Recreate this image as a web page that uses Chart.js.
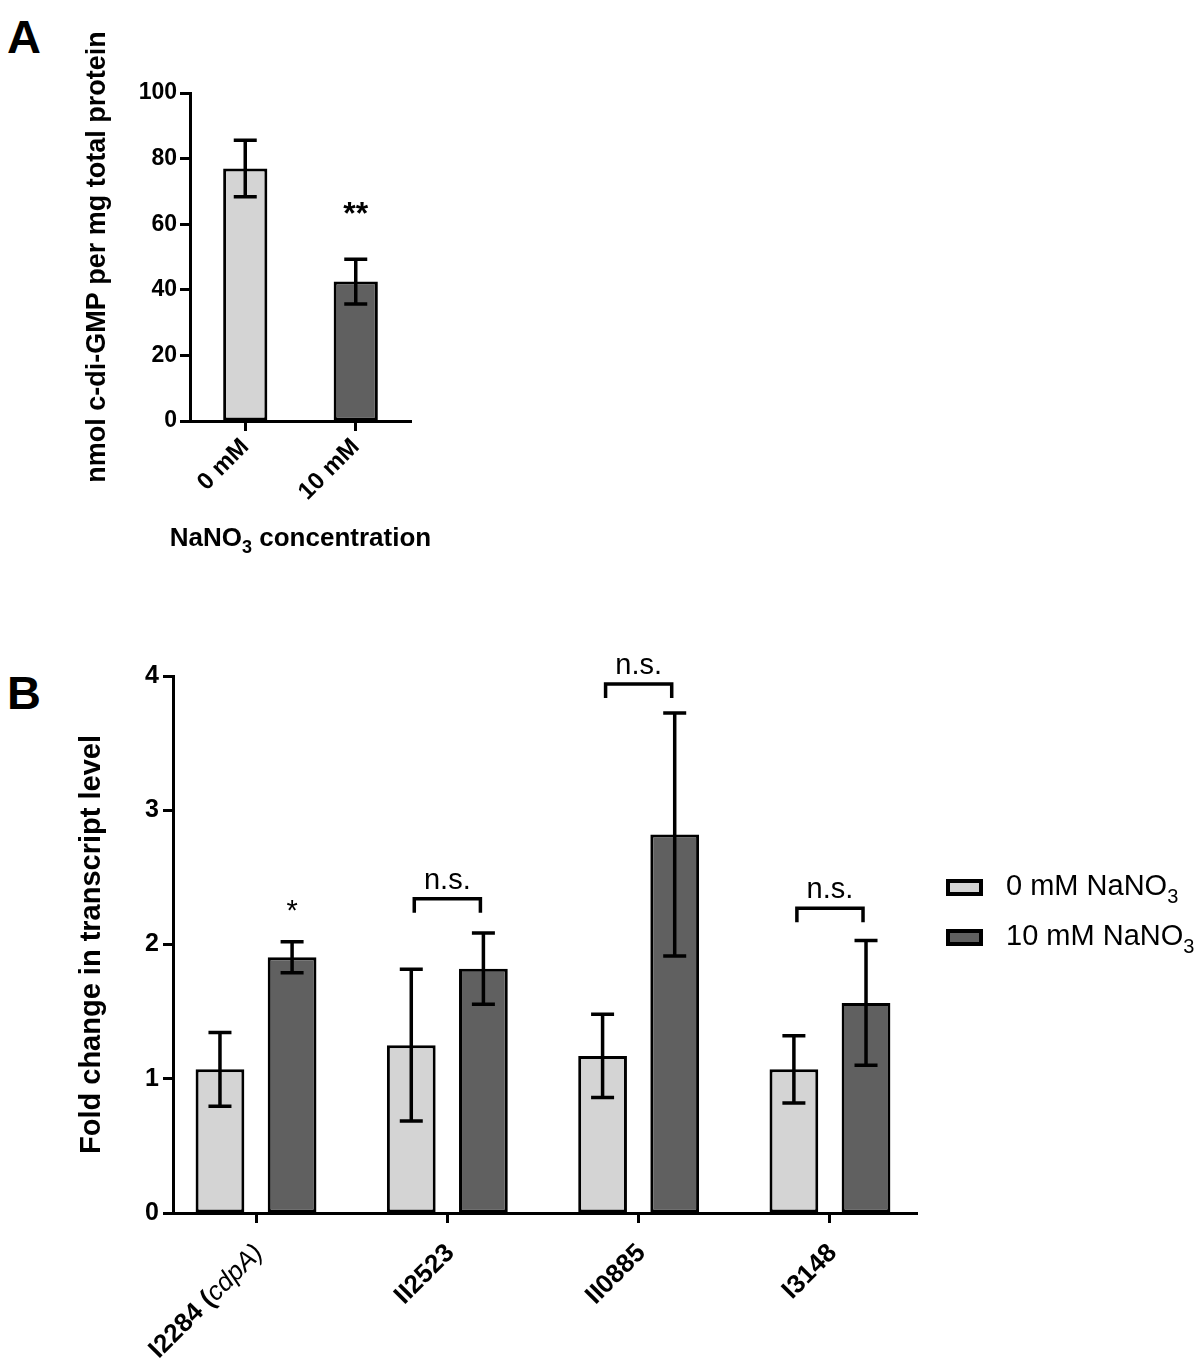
<!DOCTYPE html>
<html>
<head>
<meta charset="utf-8">
<title>c-di-GMP and transcript levels</title>
<script src="https://cdn.jsdelivr.net/npm/chart.js@4.4.1/dist/chart.umd.min.js"></script>
<style>
  body { margin: 0; background: #fff; }
  #page { position: relative; width: 1201px; height: 1358px; overflow: hidden; background: #fff; }
  canvas { position: absolute; left: 0; }
  #chartA { top: 0; }
  #chartB { top: 600px; }
  .panel { position: absolute; left: 7px; font: bold 47px "Liberation Sans", Arial, sans-serif; line-height: 1; color: #000; }
</style>
</head>
<body>
<div id="page">
  <div class="panel" style="top:13px">A</div>
  <div class="panel" style="top:669px">B</div>
  <canvas id="chartA" width="460" height="570"></canvas>
  <canvas id="chartB" width="1201" height="758"></canvas>
</div>
<script>
// panel A: c-di-GMP content
const concLabels = ['0 mM', '10 mM'];
const cdgValues = [77, 42.5];
const cdgErrors = [8.6, 6.8];
const cdgTicks = [0, 20, 40, 60, 80, 100];
const cdgSig = ['', '**'];
const cdgSigY = [0, 60];

// panel B: qRT-PCR fold change
const genes = ['I2284 (cdpA)', 'II2523', 'II0885', 'I3148'];
const seriesNames = ['0 mM NaNO₃', '10 mM NaNO₃'];
const fold0 = [1.07, 1.25, 1.17, 1.07];
const fold0Err = [0.275, 0.565, 0.31, 0.25];
const fold10 = [1.905, 1.82, 2.82, 1.565];
const fold10Err = [0.115, 0.265, 0.905, 0.465];
const foldTicks = [0, 1, 2, 3, 4];
const sigText = ['*', 'n.s.', 'n.s.', 'n.s.'];
const sigLevel = [2.11, 2.34, 3.94, 2.27];
const sigBracket = [false, true, true, true];

const FONT = '"Liberation Sans", Arial, sans-serif';
const black = '#000';
const lightFill = '#d4d4d4';
const darkFill = '#606060';

Chart.defaults.font.family = FONT;
Chart.defaults.color = black;

// text with unicode subscript digits drawn as real subscripts
function richParts(text) {
    return text.split(/([\u2080-\u2089]+)/).filter(s => s).map(s => {
        if (/[\u2080-\u2089]/.test(s)) {
            return {t: [...s].map(c => String.fromCharCode(c.charCodeAt(0) - 0x2080 + 48)).join(''), sub: true};
        }
        return {t: s, sub: false};
    });
}

function drawRich(ctx, text, x, y, size, weight, align) {
    const parts = richParts(text);
    const fonts = parts.map(p => `${weight} ${p.sub ? Math.round(size * 0.7) : size}px ${FONT}`);
    let total = 0;
    const widths = parts.map((p, i) => {
        ctx.font = fonts[i];
        const w = ctx.measureText(p.t).width;
        total += w;
        return w;
    });
    let cx = align === 'center' ? x - total / 2 : x;
    ctx.textAlign = 'left';
    ctx.textBaseline = 'alphabetic';
    parts.forEach((p, i) => {
        ctx.font = fonts[i];
        ctx.fillText(p.t, cx, y + (p.sub ? size * 0.27 : 0));
        cx += widths[i];
    });
}

const errorBars = {
    id: 'errorBars',
    afterDatasetsDraw(chart) {
        const {ctx} = chart;
        const yScale = chart.scales.y;
        ctx.save();
        ctx.strokeStyle = black;
        ctx.lineWidth = 3.5;
        chart.data.datasets.forEach((ds, di) => {
            chart.getDatasetMeta(di).data.forEach((bar, i) => {
                const raw = ds.data[i];
                const v = typeof raw === 'object' ? raw.y : raw;
                const e = ds.errors[i];
                const top = yScale.getPixelForValue(v + e);
                const bot = yScale.getPixelForValue(v - e);
                ctx.beginPath();
                ctx.moveTo(bar.x, top);
                ctx.lineTo(bar.x, bot);
                ctx.moveTo(bar.x - 11.5, top);
                ctx.lineTo(bar.x + 11.5, top);
                ctx.moveTo(bar.x - 11.5, bot);
                ctx.lineTo(bar.x + 11.5, bot);
                ctx.stroke();
            });
        });
        ctx.restore();
    }
};

const axisGrid = {drawOnChartArea: false, offset: false, tickLength: 10, tickWidth: 3, tickColor: black};
const axisBorder = {display: true, color: black, width: 3};

// ---------- panel A ----------
const extrasA = {
    id: 'extrasA',
    afterDraw(chart) {
        const {ctx, chartArea} = chart;
        const yScale = chart.scales.y;
        const meta = chart.getDatasetMeta(0);
        ctx.save();
        ctx.fillStyle = black;
        cdgSig.forEach((s, i) => {
            if (!s) return;
            ctx.font = `bold 32px ${FONT}`;
            ctx.textAlign = 'center';
            ctx.textBaseline = 'alphabetic';
            ctx.fillText(s, meta.data[i].x, yScale.getPixelForValue(cdgSigY[i]));
        });
        drawRich(ctx, 'NaNO₃ concentration', (chartArea.left + chartArea.right) / 2, 546, 26, 'bold', 'center');
        ctx.restore();
    }
};

new Chart(document.getElementById('chartA'), {
    type: 'bar',
    data: {
        labels: concLabels,
        datasets: [{
            data: cdgValues,
            errors: cdgErrors,
            backgroundColor: [lightFill, darkFill],
            borderColor: black,
            borderWidth: 3,
            borderSkipped: false,
            barPercentage: 0.5,
            categoryPercentage: 0.8
        }]
    },
    options: {
        responsive: false,
        animation: false,
        layout: {padding: {top: 93, right: 49, left: 0, bottom: 0}},
        plugins: {legend: {display: false}, tooltip: {enabled: false}},
        scales: {
            x: {
                offset: true,
                grid: axisGrid,
                border: axisBorder,
                ticks: {color: black, font: {size: 24, weight: 'bold'}, minRotation: 45, maxRotation: 45, padding: 2},
                afterFit: s => { s.height = 149; }
            },
            y: {
                min: 0,
                max: 100,
                afterBuildTicks: s => { s.ticks = cdgTicks.map(v => ({value: v})); },
                grid: axisGrid,
                border: axisBorder,
                ticks: {color: black, font: {size: 23, weight: 'bold'}, padding: 3},
                title: {
                    display: true,
                    text: 'nmol c-di-GMP per mg total protein',
                    color: black,
                    font: {size: 27, weight: 'bold'},
                    padding: {top: 81, bottom: 0}
                },
                afterFit: s => { s.width = 190; }
            }
        }
    },
    plugins: [errorBars, extrasA]
});

// ---------- panel B ----------
const extrasB = {
    id: 'extrasB',
    afterDraw(chart) {
        const {ctx, chartArea} = chart;
        const xScale = chart.scales.x;
        const yScale = chart.scales.y;
        const m0 = chart.getDatasetMeta(0).data;
        const m1 = chart.getDatasetMeta(1).data;
        ctx.save();
        ctx.fillStyle = black;
        ctx.strokeStyle = black;

        // significance marks
        genes.forEach((g, i) => {
            const ly = yScale.getPixelForValue(sigLevel[i]);
            let tx = m1[i].x;
            if (sigBracket[i]) {
                const x0 = m0[i].x + 3, x1 = m1[i].x - 3;
                ctx.lineWidth = 3.5;
                ctx.beginPath();
                ctx.moveTo(x0, ly + 14);
                ctx.lineTo(x0, ly);
                ctx.lineTo(x1, ly);
                ctx.lineTo(x1, ly + 14);
                ctx.stroke();
                tx = (m0[i].x + m1[i].x) / 2;
            }
            ctx.font = `29px ${FONT}`;
            ctx.textAlign = 'center';
            ctx.textBaseline = 'alphabetic';
            ctx.fillText(sigText[i], tx, ly - 10);
        });

        // rotated category labels, gene names in parentheses in italics
        genes.forEach((g, i) => {
            const m = g.match(/^(.*\()(.*\))$/);
            const parts = m ? [[m[1], 'bold'], [m[2], 'italic']] : [[g, 'bold']];
            const x = xScale.getPixelForValue(i) + 3;
            const y = chartArea.bottom + 36;
            ctx.save();
            ctx.translate(x, y);
            ctx.rotate(-Math.PI / 4);
            ctx.textAlign = 'right';
            ctx.textBaseline = 'middle';
            let cx = 0;
            for (let k = parts.length - 1; k >= 0; k--) {
                ctx.font = `${parts[k][1]} 26px ${FONT}`;
                ctx.fillText(parts[k][0], cx, 0);
                cx -= ctx.measureText(parts[k][0]).width;
            }
            ctx.restore();
        });

        // legend
        const fills = [lightFill, darkFill];
        seriesNames.forEach((name, i) => {
            const cy = 287.5 + i * 50;
            const bx = chartArea.right + 31;
            ctx.fillStyle = fills[i];
            ctx.fillRect(bx, cy - 6.5, 33, 13);
            ctx.lineWidth = 4;
            ctx.strokeRect(bx, cy - 6.5, 33, 13);
            ctx.fillStyle = black;
            drawRich(ctx, name, chartArea.right + 89, cy + 7.5, 29, 'normal', 'left');
        });
        ctx.restore();
    }
};

const toPoints = vals => vals.map((v, i) => ({x: i, y: v}));

new Chart(document.getElementById('chartB'), {
    type: 'bar',
    data: {
        datasets: [
            {
                label: seriesNames[0],
                data: toPoints(fold0),
                errors: fold0Err,
                backgroundColor: lightFill,
                borderColor: black,
                borderWidth: 3,
                borderSkipped: false,
                barPercentage: 0.676,
                categoryPercentage: 0.754
            },
            {
                label: seriesNames[1],
                data: toPoints(fold10),
                errors: fold10Err,
                backgroundColor: darkFill,
                borderColor: black,
                borderWidth: 3,
                borderSkipped: false,
                barPercentage: 0.676,
                categoryPercentage: 0.754
            }
        ]
    },
    options: {
        responsive: false,
        animation: false,
        layout: {padding: {top: 76, right: 284, left: 0, bottom: 0}},
        plugins: {legend: {display: false}, tooltip: {enabled: false}},
        scales: {
            x: {
                type: 'linear',
                min: -0.434,
                max: 3.455,
                offset: false,
                afterBuildTicks: s => { s.ticks = genes.map((g, i) => ({value: i})); },
                grid: axisGrid,
                border: axisBorder,
                ticks: {display: false},
                afterFit: s => { s.height = 145; }
            },
            y: {
                min: 0,
                max: 4,
                afterBuildTicks: s => { s.ticks = foldTicks.map(v => ({value: v})); },
                grid: axisGrid,
                border: axisBorder,
                ticks: {color: black, font: {size: 25, weight: 'bold'}, padding: 4},
                title: {
                    display: true,
                    text: 'Fold change in transcript level',
                    color: black,
                    font: {size: 29, weight: 'bold'},
                    padding: {top: 75, bottom: 0}
                },
                afterFit: s => { s.width = 173; }
            }
        }
    },
    plugins: [errorBars, extrasB]
});
</script>
</body>
</html>
